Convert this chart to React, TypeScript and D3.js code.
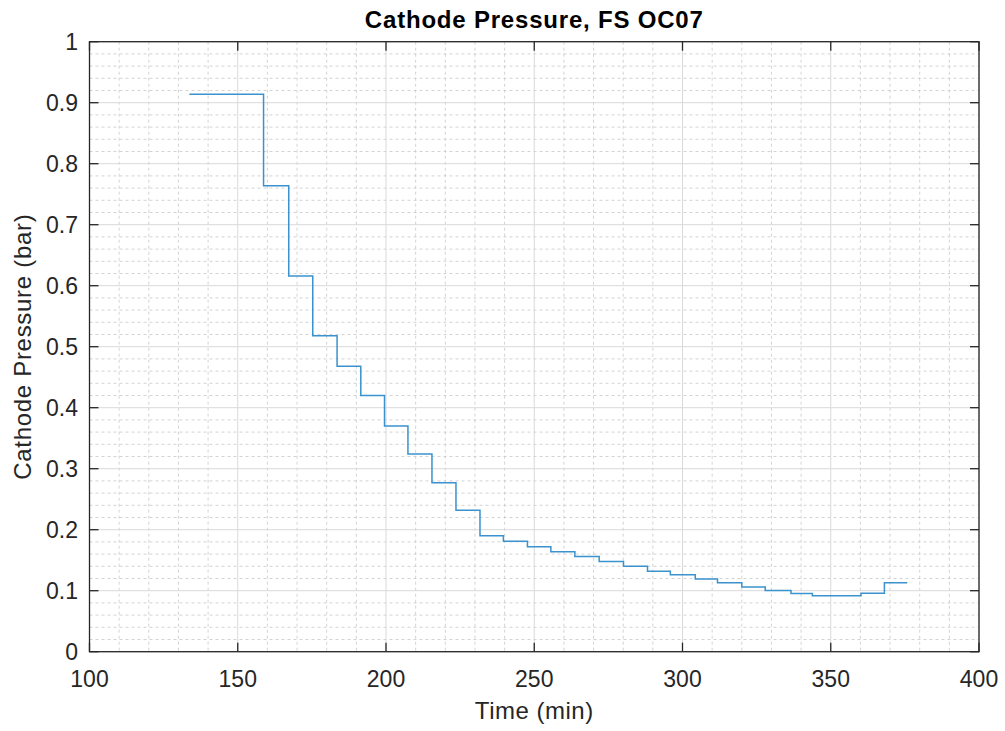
import React from "react";
import * as d3 from "d3";

const stepTimes = [133.7, 158.7, 167.2, 175.3, 183.5, 191.5, 199.5, 207.4, 215.5, 223.6, 231.7, 239.6, 247.7, 255.6, 263.7, 271.9, 280.1, 288.2, 295.9, 304.3, 311.8, 320.0, 327.9, 336.6, 343.8, 360.2, 368.1, 375.8];
const stepLevels = [0.914, 0.764, 0.616, 0.518, 0.468, 0.420, 0.370, 0.324, 0.277, 0.232, 0.190, 0.181, 0.172, 0.164, 0.156, 0.148, 0.140, 0.132, 0.126, 0.119, 0.113, 0.106, 0.1005, 0.0955, 0.0918, 0.096, 0.113, 0.113];

const xTicks = [100, 150, 200, 250, 300, 350, 400];
const yTicks = [0, 0.1, 0.2, 0.3, 0.4, 0.5, 0.6, 0.7, 0.8, 0.9, 1];
const xMinor = d3.range(100, 401, 10);
const yMinor = d3.range(0, 1.0001, 0.02);

const title = "Cathode Pressure, FS OC07";
const xLabel = "Time (min)";
const yLabel = "Cathode Pressure (bar)";

export default function App() {
  const W = 1005, H = 731;
  const L = 89.5, R = 979, T = 41.7, B = 651.7;
  const x = d3.scaleLinear().domain([100, 400]).range([L, R]);
  const y = d3.scaleLinear().domain([0, 1]).range([B, T]);
  const pts: [number, number][] = stepTimes.map((t, i) => [t, stepLevels[i]]);
  const line = d3.line<[number, number]>().x(d => x(d[0])).y(d => y(d[1])).curve(d3.curveStepAfter);
  const font = "'Liberation Sans', Arial, Helvetica, sans-serif";
  const axisColor = "#262626";
  const tickLen = 9;
  return (
    <svg width={W} height={H} style={{ position: "absolute", left: 0, top: 0, background: "#fff" }} fontFamily={font}>
      <rect x={0} y={0} width={W} height={H} fill="#fff" />
      {/* minor grid */}
      {xMinor.filter(v => v % 50 !== 0).map(v => (
        <line key={"xm" + v} x1={x(v)} x2={x(v)} y1={T} y2={B} stroke="#c8c8c8" strokeWidth={0.8} strokeDasharray="3,3" />
      ))}
      {yMinor.filter(v => Math.abs(v * 10 - Math.round(v * 10)) > 1e-6).map((v, i) => (
        <line key={"ym" + i} x1={L} x2={R} y1={y(v)} y2={y(v)} stroke="#c8c8c8" strokeWidth={0.8} strokeDasharray="3,3" />
      ))}
      {/* major grid */}
      {xTicks.map(v => (
        <line key={"xg" + v} x1={x(v)} x2={x(v)} y1={T} y2={B} stroke="#d9d9d9" strokeWidth={1} />
      ))}
      {yTicks.map(v => (
        <line key={"yg" + v} x1={L} x2={R} y1={y(v)} y2={y(v)} stroke="#d9d9d9" strokeWidth={1} />
      ))}
      {/* data */}
      <path d={line(pts) || ""} fill="none" stroke="#3a92ce" strokeWidth={1.5} />
      {/* box */}
      <rect x={L} y={T} width={R - L} height={B - T} fill="none" stroke={axisColor} strokeWidth={1.3} />
      {/* ticks */}
      {xTicks.map(v => (
        <g key={"xt" + v}>
          <line x1={x(v)} x2={x(v)} y1={B} y2={B - tickLen} stroke={axisColor} strokeWidth={1.3} />
          <line x1={x(v)} x2={x(v)} y1={T} y2={T + tickLen} stroke={axisColor} strokeWidth={1.3} />
          <text x={x(v)} y={687} textAnchor="middle" fontSize={23} fill={axisColor}>{v}</text>
        </g>
      ))}
      {yTicks.map(v => (
        <g key={"yt" + v}>
          <line x1={L} x2={L + tickLen} y1={y(v)} y2={y(v)} stroke={axisColor} strokeWidth={1.3} />
          <line x1={R} x2={R - tickLen} y1={y(v)} y2={y(v)} stroke={axisColor} strokeWidth={1.3} />
          <text x={78} y={y(v) + 8.2} textAnchor="end" fontSize={23} fill={axisColor}>{v}</text>
        </g>
      ))}
      <text x={(L + R) / 2} y={28.3} textAnchor="middle" fontSize={24} fontWeight="bold" letterSpacing={0.8} fill="#000">{title}</text>
      <text x={(L + R) / 2} y={719} textAnchor="middle" fontSize={24} letterSpacing={0.5} fill={axisColor}>{xLabel}</text>
      <text transform={`translate(31,${(T + B) / 2}) rotate(-90)`} textAnchor="middle" fontSize={24} letterSpacing={0.7} fill={axisColor}>{yLabel}</text>
    </svg>
  );
}
